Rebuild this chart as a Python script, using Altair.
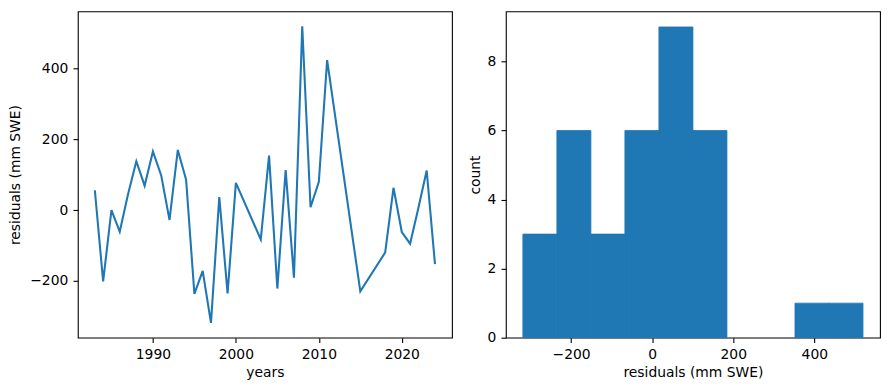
import altair as alt
import pandas as pd

years = [1983, 1984, 1985, 1986, 1987, 1988, 1989, 1990, 1991, 1992,
         1993, 1994, 1995, 1996, 1997, 1998, 1999, 2000, 2003, 2004,
         2005, 2006, 2007, 2008, 2009, 2010, 2011, 2015, 2018, 2019,
         2020, 2021, 2022, 2023, 2024]
residuals = [56, -202, 0, -61, 45, 138, 69, 166, 98, -28,
             170, 86, -237, -172, -319, 37, -236, 77, -83, 154,
             -222, 113, -191, 520, 8, 80, 424, -230, -120, 63,
             -62, -95, 6, 112, -153]

year_ticks = [1990, 2000, 2010, 2020]
resid_ticks = [-200, 0, 200, 400]
count_ticks = [0, 2, 4, 6, 8]
n_bins = 10

df = pd.DataFrame({"year": years, "residual": residuals})

rmin, rmax = min(residuals), max(residuals)
rpad = 0.05 * (rmax - rmin)
ymin, ymax = min(years), max(years)
ypad = 0.05 * (ymax - ymin)

BLUE = "#1f77b4"
FONT = "DejaVu Sans"

line = alt.Chart(df).mark_line(color=BLUE, strokeWidth=2.08, clip=True).encode(
    x=alt.X("year:Q",
            scale=alt.Scale(domain=[ymin - ypad, ymax + ypad], nice=False, zero=False),
            axis=alt.Axis(values=year_ticks, format="d", title="years")),
    y=alt.Y("residual:Q",
            scale=alt.Scale(domain=[rmin - rpad, rmax + rpad], nice=False, zero=False),
            axis=alt.Axis(values=resid_ticks, title="residuals (mm SWE)", titlePadding=7)),
).properties(width=375, height=327)

step = (rmax - rmin) / n_bins
hist = alt.Chart(df).transform_bin(
    ["bin_start", "bin_end"], "residual",
    bin=alt.Bin(extent=[rmin, rmax], step=step, nice=False)
).transform_aggregate(
    count="count()", groupby=["bin_start", "bin_end"]
).mark_rect(color=BLUE, stroke=BLUE, strokeWidth=0.8).encode(
    x=alt.X("bin_start:Q",
            scale=alt.Scale(domain=[rmin - rpad, rmax + rpad], nice=False, zero=False),
            axis=alt.Axis(values=resid_ticks, title="residuals (mm SWE)")),
    x2="bin_end:Q",
    y=alt.Y("count:Q",
            scale=alt.Scale(domain=[0, 9.45], nice=False),
            axis=alt.Axis(values=count_ticks, title="count", titlePadding=4.5)),
    y2=alt.datum(0),
).properties(width=375, height=327)

chart = alt.hconcat(line, hist, spacing=15).properties(
    padding={"left": 0, "top": 2, "right": 0, "bottom": 0}
).configure_view(
    stroke="black", strokeWidth=1.1
).configure_axis(
    grid=False, domain=False,
    labelFont=FONT, labelFontSize=13.9, labelColor="black",
    titleFont=FONT, titleFontSize=13.9, titleFontWeight="normal", titleColor="black",
    tickColor="black", tickSize=4.86, tickWidth=1.1,
    labelPadding=5.2, titlePadding=4,
)

chart.save("out.html", embed_options={"renderer": "svg", "actions": False})
